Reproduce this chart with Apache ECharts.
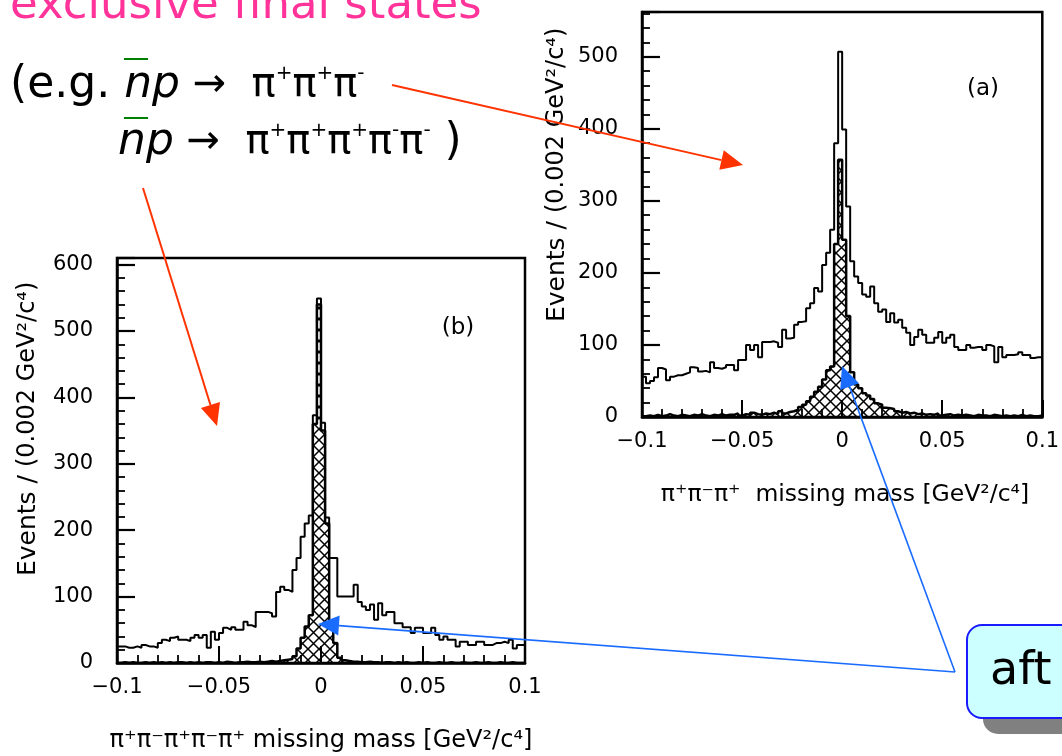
<!DOCTYPE html>
<html lang="en">
<head>
<meta charset="UTF-8">
<title>Missing mass spectra</title>
<script src="https://cdn.jsdelivr.net/npm/echarts@6.0.0/dist/echarts.min.js"></script>
<style>
html, body { margin: 0; padding: 0; background: #fff; }
#chart { width: 1062px; height: 756px; }
</style>
</head>
<body>
<div id="chart"></div>
<script>
// histogram bins: 0.002 GeV^2/c^4 wide, from -0.1 to 0.1 (100 bins)
const binStart = -0.1;
const binWidth = 0.002;

// (a) pi+ pi- pi+ missing mass, all events
const aAll = [
56, 47, 50, 55, 68, 66, 51, 56, 58, 58,
60, 62, 69, 68, 63, 64, 62, 76, 68, 67,
69, 72, 72, 65, 79, 79, 100, 93, 100, 83,
104, 104, 105, 103, 97, 121, 109, 110, 128, 132,
133, 151, 158, 179, 174, 211, 228, 260, 380, 507,
399, 292, 216, 195, 186, 170, 167, 181, 158, 146,
149, 132, 144, 131, 135, 124, 117, 100, 111, 121,
114, 103, 103, 110, 118, 103, 110, 114, 97, 93,
93, 100, 96, 97, 97, 93, 100, 98, 76, 97,
83, 86, 86, 87, 90, 86, 86, 82, 83, 83
];
// (a) after cuts (hatched)
const aCut = [
1, 2, 1, 3, 1, 2, 4, 2, 1, 3,
2, 1, 3, 2, 4, 2, 1, 3, 2, 4,
2, 3, 3, 5, 2, 4, 3, 6, 4, 3,
5, 4, 6, 4, 8, 5, 7, 8, 10, 14,
17, 22, 28, 35, 42, 52, 65, 70, 240, 357,
246, 140, 62, 45, 40, 33, 30, 25, 19, 17,
13, 12, 11, 8, 6, 7, 5, 6, 4, 5,
3, 4, 3, 5, 2, 3, 4, 2, 3, 2,
3, 2, 1, 3, 2, 2, 1, 3, 2, 1,
2, 1, 2, 1, 3, 1, 2, 1, 1, 2
];
// (b) pi+ pi- pi+ pi- pi+ missing mass, all events
const bAll = [
25, 25, 23, 23, 25, 23, 27, 25, 25, 23,
30, 35, 33, 38, 40, 35, 35, 33, 38, 42,
38, 42, 23, 47, 35, 45, 53, 50, 54, 50,
50, 62, 57, 54, 77, 77, 77, 75, 70, 107,
115, 110, 107, 140, 158, 190, 210, 222, 373, 549,
362, 219, 158, 158, 100, 100, 100, 100, 118, 92,
85, 80, 88, 65, 90, 72, 77, 77, 60, 60,
54, 54, 45, 53, 53, 45, 45, 53, 42, 35,
40, 35, 35, 25, 32, 32, 27, 27, 32, 32,
27, 27, 30, 30, 32, 30, 35, 22, 27, 27
];
// (b) after cuts (hatched)
const bCut = [
0, 1, 0, 1, 0, 0, 1, 0, 1, 0,
1, 0, 1, 0, 1, 1, 0, 1, 0, 1,
0, 1, 1, 0, 1, 0, 2, 1, 0, 1,
1, 2, 1, 1, 2, 1, 2, 3, 2, 3,
4, 5, 6, 10, 22, 38, 55, 72, 360, 540,
350, 210, 60, 30, 8, 4, 3, 2, 2, 1,
1, 2, 1, 1, 0, 1, 1, 0, 1, 0,
1, 0, 0, 1, 0, 1, 0, 0, 1, 0,
0, 1, 0, 0, 1, 0, 0, 1, 0, 0,
1, 0, 0, 1, 0, 0, 1, 0, 0, 0
];

const xMin = -0.1, xMax = 0.1, xStep = 0.05;
const aYMax = 562, bYMax = 610;

// bin edges -> points for a stepped outline
function steps(vals) {
  const pts = vals.map((v, i) => [+(binStart + i * binWidth).toFixed(3), v]);
  pts.push([+(binStart + vals.length * binWidth).toFixed(3), vals[vals.length - 1]]);
  return pts;
}

// cross hatch tile
const hatch = document.createElement('canvas');
hatch.width = 11;
hatch.height = 11;
const hc = hatch.getContext('2d');
hc.strokeStyle = '#000';
hc.lineWidth = 1.5;
hc.beginPath();
hc.moveTo(0, 0); hc.lineTo(11, 11);
hc.moveTo(11, 0); hc.lineTo(0, 11);
hc.stroke();

const FONT = 'DejaVu Sans';
const GREEN = '#008000';
const RED = '#ff3300';
const BLUE = '#1a6cff';

function xAxisCfg(gi) {
  return {
    type: 'value', gridIndex: gi, position: 'bottom', min: xMin, max: xMax, interval: xStep,
    axisLine: { onZero: false, lineStyle: { color: '#000', width: 2.5 } },
    axisTick: { inside: true, length: 17, lineStyle: { color: '#000', width: 2 } },
    minorTick: { show: true, splitNumber: 5, length: 8, lineStyle: { color: '#000', width: 1.8 } },
    splitLine: { show: false },
    axisLabel: {
      margin: 14, color: '#000', fontFamily: FONT, fontSize: 21,
      showMinLabel: true, showMaxLabel: true,
      formatter: v => {
        const r = Math.round(v * 1000) / 1000;
        return r === 0 ? '0' : String(r).replace('-', '\u2212');
      }
    }
  };
}
function yMajor(gi, max) {
  return {
    type: 'value', gridIndex: gi, position: 'left', min: 0, max: max, interval: 100, z: 5,
    axisLine: { onZero: false, lineStyle: { color: '#000', width: 2.5 } },
    axisTick: { inside: true, length: 18, lineStyle: { color: '#000', width: 2.2 } },
    splitLine: { show: false },
    axisLabel: {
      margin: 24, color: '#000', fontFamily: FONT, fontSize: 21,
      formatter: v => (v % 100 === 0 ? String(v) : '')
    }
  };
}
function yMinor(gi, max) {
  return {
    type: 'value', gridIndex: gi, position: 'left', offset: 0, min: 0, max: max, interval: 20, z: 4,
    axisLine: { show: false, onZero: false },
    axisTick: { inside: true, length: 8, lineStyle: { color: '#000', width: 1.8 } },
    splitLine: { show: false },
    axisLabel: { show: false }
  };
}

function arrow(x1, y1, x2, y2, color, w, headLen, headW) {
  const dx = x2 - x1, dy = y2 - y1, L = Math.hypot(dx, dy);
  const ux = dx / L, uy = dy / L;
  const bx = x2 - ux * headLen, by = y2 - uy * headLen;
  return [
    { type: 'line', z: 100, shape: { x1: x1, y1: y1, x2: bx, y2: by }, style: { stroke: color, lineWidth: w } },
    { type: 'polygon', z: 100, shape: { points: [[x2, y2], [bx - uy * headW / 2, by + ux * headW / 2], [bx + uy * headW / 2, by - ux * headW / 2]] }, style: { fill: color } }
  ];
}

function label(x, y, text, size, extra) {
  return Object.assign({
    type: 'text', x: x, y: y, z: 50,
    style: { text: text, fill: '#000', font: size + 'px "' + FONT + '"', align: 'center', verticalAlign: 'middle' }
  }, extra || {});
}

const eqRich = {
  k: { fontFamily: FONT, fontSize: 44, color: '#000' },
  n: { fontFamily: FONT, fontSize: 44, fontStyle: 'italic', color: GREEN },
  g: { fontFamily: FONT, fontSize: 40, color: GREEN },
  s: { fontFamily: FONT, fontSize: 20, color: GREEN, verticalAlign: 'top' }
};
const yNameRich = {
  e: { fontFamily: FONT, fontSize: 25, color: '#000' },
  p: { fontFamily: FONT, fontSize: 24, color: '#000' }
};

const graphic = [
  { type: 'text', x: 10, y: 29, z: 50,
    style: { text: 'exclusive final states', font: '45px "' + FONT + '"', fill: '#ff3399', align: 'left', verticalAlign: 'bottom' } },
  { type: 'text', x: 10, y: 86, z: 50,
    style: { text: '{k|(e.g. }{n|np}{g| \u2192  \u03c0}{s|+}{g|\u03c0}{s|+}{g|\u03c0}{s|-}', rich: eqRich, align: 'left', verticalAlign: 'middle' } },
  { type: 'text', x: 118, y: 143, z: 50,
    style: { text: '{n|np}{g| \u2192  \u03c0}{s|+}{g|\u03c0}{s|+}{g|\u03c0}{s|+}{g|\u03c0}{s|-}{g|\u03c0}{s|-}{k| )}', rich: eqRich, align: 'left', verticalAlign: 'middle' } },
  { type: 'line', z: 50, shape: { x1: 124, y1: 59, x2: 148, y2: 59 }, style: { stroke: GREEN, lineWidth: 2 } },
  { type: 'line', z: 50, shape: { x1: 124, y1: 118, x2: 148, y2: 118 }, style: { stroke: GREEN, lineWidth: 2 } },

  // axis titles
  { type: 'text', x: 557, y: 322, rotation: Math.PI / 2, z: 50,
    style: { text: '{e|Events / }{p|(0.002 GeV\u00b2/c\u2074)}', rich: yNameRich, align: 'left', verticalAlign: 'middle' } },
  { type: 'text', x: 28, y: 576, rotation: Math.PI / 2, z: 50,
    style: { text: '{e|Events / }{p|(0.002 GeV\u00b2/c\u2074)}', rich: yNameRich, align: 'left', verticalAlign: 'middle' } },
  label(845, 495, '\u03c0\u207a\u03c0\u207b\u03c0\u207a  missing mass [GeV\u00b2/c\u2074]', 23.5),
  label(321, 741, '\u03c0\u207a\u03c0\u207b\u03c0\u207a\u03c0\u207b\u03c0\u207a missing mass [GeV\u00b2/c\u2074]', 24),
  label(983, 89, '(a)', 23),
  label(458, 328, '(b)', 23),

  // "after" box
  { type: 'rect', z: 60, shape: { x: 983, y: 641, width: 200, height: 93, r: 15 }, style: { fill: '#808080' } },
  { type: 'rect', z: 61, shape: { x: 967, y: 625, width: 200, height: 93, r: 15 }, style: { fill: '#ccffff', stroke: '#1a1aff', lineWidth: 2 } },
  { type: 'text', x: 990, y: 672, z: 62,
    style: { text: 'aft', font: '46px "' + FONT + '"', fill: '#000', align: 'left', verticalAlign: 'middle' } }
]
  .concat(arrow(392, 85, 743, 165, RED, 2, 22, 20))
  .concat(arrow(143, 188, 217, 426, RED, 2, 22, 20))
  .concat(arrow(955, 672, 842, 366, BLUE, 1.6, 22, 20))
  .concat(arrow(955, 672, 318, 624, BLUE, 1.6, 21, 20));

const chart = echarts.init(document.getElementById('chart'));
chart.setOption({
  animation: false,
  backgroundColor: '#fff',
  grid: [
    { left: 642, top: 12, width: 407, height: 405, show: true, borderColor: '#000', borderWidth: 2.5, backgroundColor: 'transparent' },
    { left: 117, top: 258, width: 408, height: 405, show: true, borderColor: '#000', borderWidth: 2.5, backgroundColor: 'transparent' }
  ],
  xAxis: [xAxisCfg(0), xAxisCfg(1)],
  yAxis: [yMajor(0, aYMax), yMinor(0, aYMax), yMajor(1, bYMax), yMinor(1, bYMax)],
  series: [
    { type: 'line', xAxisIndex: 0, yAxisIndex: 0, step: 'end', symbol: 'none', z: 2,
      lineStyle: { color: '#000', width: 2 }, data: steps(aAll) },
    { type: 'line', xAxisIndex: 0, yAxisIndex: 0, step: 'end', symbol: 'none', z: 3,
      lineStyle: { color: '#000', width: 2.5 },
      areaStyle: { color: { image: hatch, repeat: 'repeat' }, opacity: 1 }, data: steps(aCut) },
    { type: 'line', xAxisIndex: 1, yAxisIndex: 2, step: 'end', symbol: 'none', z: 2,
      lineStyle: { color: '#000', width: 2 }, data: steps(bAll) },
    { type: 'line', xAxisIndex: 1, yAxisIndex: 2, step: 'end', symbol: 'none', z: 3,
      lineStyle: { color: '#000', width: 2.5 },
      areaStyle: { color: { image: hatch, repeat: 'repeat' }, opacity: 1 }, data: steps(bCut) }
  ],
  graphic: graphic
});
</script>
</body>
</html>
